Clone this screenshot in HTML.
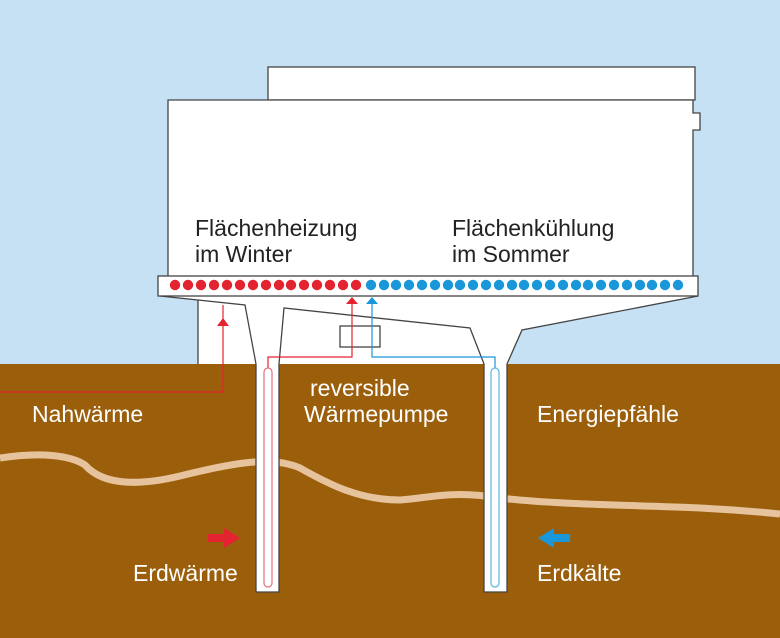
<!DOCTYPE html>
<html><head><meta charset="utf-8"><style>
body{margin:0;padding:0;}
svg{display:block;}
text{font-family:"Liberation Sans","DejaVu Sans",sans-serif;}
</style></head><body>
<svg width="780" height="638" viewBox="0 0 780 638" xmlns="http://www.w3.org/2000/svg">
<rect width="780" height="364" fill="#c6e0f4"/>
<rect y="364" width="780" height="274" fill="#9b5f0c"/>
<path d="M0,458 C40,452 70,455 85,465 C100,482 130,488 180,476 C230,464 270,455 300,468 C330,485 360,500 400,500 C430,498 450,490 500,498 C560,505 640,505 700,508 C740,510 760,512 780,514" fill="none" stroke="#e6c39c" stroke-width="7"/>
<!-- building -->
<g stroke="#444" stroke-width="1.3" fill="#fff">
<rect x="268" y="67" width="427" height="33"/>
<path d="M168,100 H693 V113 H700 V130 H693 V278 H168 Z"/>
</g>
<path d="M198,296 H698 L522,330 L508,364 H198 Z" fill="#fff"/>
<path d="M160,296 L198,300 V296 Z" fill="#fff"/>
<g stroke="#444" stroke-width="1.3" fill="none">
<path d="M198,300 V364 M256,364 L245,305 L160,296"/>
<path d="M256,364 V592 H279 V364 L284,308 L470,328 L484,364 V592 H507 V364 L522,330 L698,296" fill="#fff"/>
<rect x="158" y="276" width="540" height="20" fill="#fff"/>
<rect x="340" y="326" width="40" height="21" fill="#fff"/>
</g>
<g fill="#e42330">
<circle cx="175" cy="285" r="5.2"/><circle cx="188" cy="285" r="5.2"/><circle cx="201" cy="285" r="5.2"/><circle cx="214" cy="285" r="5.2"/><circle cx="227" cy="285" r="5.2"/><circle cx="240" cy="285" r="5.2"/><circle cx="253" cy="285" r="5.2"/><circle cx="266" cy="285" r="5.2"/><circle cx="279" cy="285" r="5.2"/><circle cx="291" cy="285" r="5.2"/><circle cx="304" cy="285" r="5.2"/><circle cx="317" cy="285" r="5.2"/><circle cx="330" cy="285" r="5.2"/><circle cx="343" cy="285" r="5.2"/><circle cx="356" cy="285" r="5.2"/>
</g>
<g fill="#1a97d8">
<circle cx="371" cy="285" r="5.2"/><circle cx="384" cy="285" r="5.2"/><circle cx="396" cy="285" r="5.2"/><circle cx="409" cy="285" r="5.2"/><circle cx="422" cy="285" r="5.2"/><circle cx="435" cy="285" r="5.2"/><circle cx="448" cy="285" r="5.2"/><circle cx="460" cy="285" r="5.2"/><circle cx="473" cy="285" r="5.2"/><circle cx="486" cy="285" r="5.2"/><circle cx="499" cy="285" r="5.2"/><circle cx="512" cy="285" r="5.2"/><circle cx="524" cy="285" r="5.2"/><circle cx="537" cy="285" r="5.2"/><circle cx="550" cy="285" r="5.2"/><circle cx="563" cy="285" r="5.2"/><circle cx="576" cy="285" r="5.2"/><circle cx="588" cy="285" r="5.2"/><circle cx="601" cy="285" r="5.2"/><circle cx="614" cy="285" r="5.2"/><circle cx="627" cy="285" r="5.2"/><circle cx="640" cy="285" r="5.2"/><circle cx="652" cy="285" r="5.2"/><circle cx="665" cy="285" r="5.2"/><circle cx="678" cy="285" r="5.2"/>
</g>
<!-- pipes -->
<g fill="none" stroke-width="1.2">
<path d="M352,304 V357 H268 V368" stroke="#e42330"/>
<path d="M264,583 V372 A4,4 0 0 1 272,372 V583 A4,4 0 0 1 264,583 Z" stroke="#e0707a"/>
<path d="M372,304 V357 H495 V368" stroke="#1a97d8"/>
<path d="M491,583 V372 A4,4 0 0 1 499,372 V583 A4,4 0 0 1 491,583 Z" stroke="#5ab3e0"/>
<path d="M223,305 V392 H0" stroke="#e42330"/>
</g>
<polygon points="346,304 358,304 352,297" fill="#e42330"/>
<polygon points="366,304 378,304 372,297" fill="#1a97d8"/>
<polygon points="217,326 229,326 223,318" fill="#e42330"/>
<polygon points="208,534 224,534 224,528 240,538 224,548 224,542 208,542" fill="#e42330"/>
<polygon points="570,534 554,534 554,528 538,538 554,548 554,542 570,542" fill="#1a97d8"/>
<g font-size="23" fill="#222">
<text x="195" y="236">Flächenheizung</text>
<text x="195" y="262">im Winter</text>
<text x="452" y="236">Flächenkühlung</text>
<text x="452" y="262">im Sommer</text>
</g>
<g font-size="23" fill="#fff">
<text x="32" y="422">Nahwärme</text>
<text x="310" y="396">reversible</text>
<text x="304" y="422">Wärmepumpe</text>
<text x="537" y="422">Energiepfähle</text>
<text x="133" y="581">Erdwärme</text>
<text x="537" y="581">Erdkälte</text>
</g>
</svg>
</body></html>
